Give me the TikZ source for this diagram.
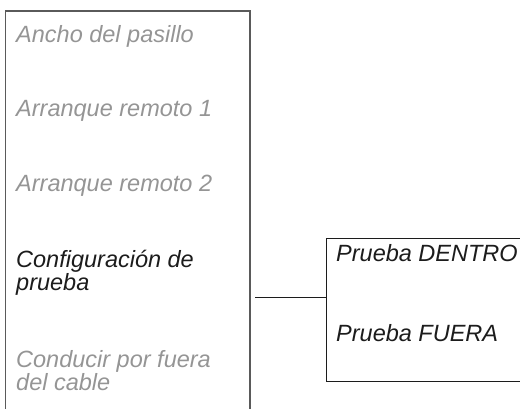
\documentclass[tikz,border=0pt]{standalone}
\usepackage{fontspec}
\setmainfont{Liberation Sans}
\usetikzlibrary{positioning}

\definecolor{menugray}{HTML}{959595}
\definecolor{menutext}{HTML}{1C1C1C}
\definecolor{framegray}{HTML}{5A5A5A}

\begin{document}
\begin{tikzpicture}[
	x=1pt, y=-1pt,
	item/.style={font=\fontsize{23.5}{23.7}\selectfont\itshape, text=menugray, anchor=base west, inner sep=0pt, align=left},
	active/.style={item, text=menutext},
	frame/.style={draw=framegray, line width=1.8pt},
	subframe/.style={draw=menutext, line width=0.9pt},
	link/.style={draw=menutext, line width=0.9pt}
	]
	\useasboundingbox (0,0) rectangle (520,409);
	
	% ======================
	% linkes Menue (unten offen)
	% ======================
	\draw[frame] (5.5,412) |- (249.7,11) -- (249.7,412);
	
	\node[item] (ancho) at (16,43) {Ancho del pasillo};
	\node[item] (arr1) at (16,117) {Arranque remoto 1};
	\node[item] (arr2) at (16,191.5) {Arranque remoto 2};
	% zweizeilig: base = letzte Zeile
	\node[active] (config) at (16,290.7) {Configuración de\\prueba};
	\node[item] (conducir) at (16,390.7) {Conducir por fuera\\del cable};
	
	% ======================
	% Untermenue (rechts offen)
	% ======================
	\coordinate (subtl) at (326.5,238);
	\coordinate (subbl) at (326.5,381);
	\draw[subframe] (524,238) -- (subtl) -- (subbl) -- (524,381);
	
	\node[active] (dentro) at (336,261.7) {Prueba DENTRO};
	\node[active] (fuera) at (336,341) {Prueba FUERA};
	
	% Verbindung
	\coordinate (linkstart) at (255,297.5);
	\draw[link] (linkstart) -- (linkstart -| subtl);
	
\end{tikzpicture}
\end{document}
